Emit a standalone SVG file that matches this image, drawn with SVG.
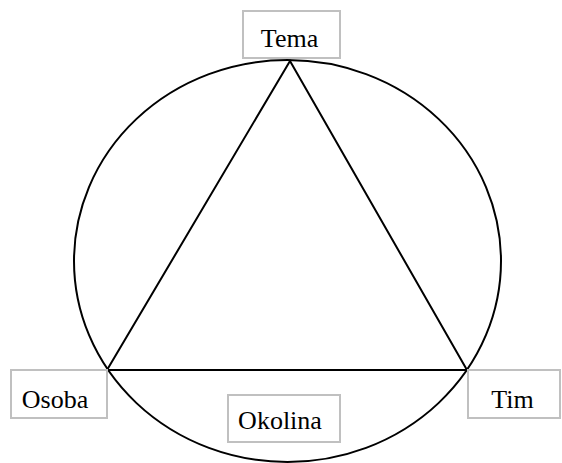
<svg xmlns="http://www.w3.org/2000/svg" width="562" height="463" viewBox="0 0 562 463">
<style>
.line{fill:none;stroke:#000;stroke-width:2}
.box{fill:#fff;stroke:#c0c0c0;stroke-width:2}
.lbl{font-family:"Liberation Serif","Times New Roman",serif;font-size:26px;fill:#000;text-anchor:middle}
</style>
<rect width="562" height="463" fill="#fff"/>
<g id="connectors">
<ellipse class="line" cx="287.5" cy="261" rx="213.5" ry="201"/>
<polygon class="line" points="290,61 107,370 467,370"/>
</g>
<g id="tema"><rect class="box" x="243" y="11" width="97" height="47"/><text class="lbl" x="289.5" y="46.5">Tema</text></g>
<g id="osoba"><rect class="box" x="11" y="370" width="96" height="48"/><text class="lbl" x="55" y="407.5">Osoba</text></g>
<g id="tim"><rect class="box" x="468" y="370" width="92" height="48"/><text class="lbl" x="512.5" y="407.5">Tim</text></g>
<g id="okolina"><rect class="box" x="228" y="395" width="112" height="47"/><text class="lbl" x="280" y="428.5">Okolina</text></g>
</svg>
